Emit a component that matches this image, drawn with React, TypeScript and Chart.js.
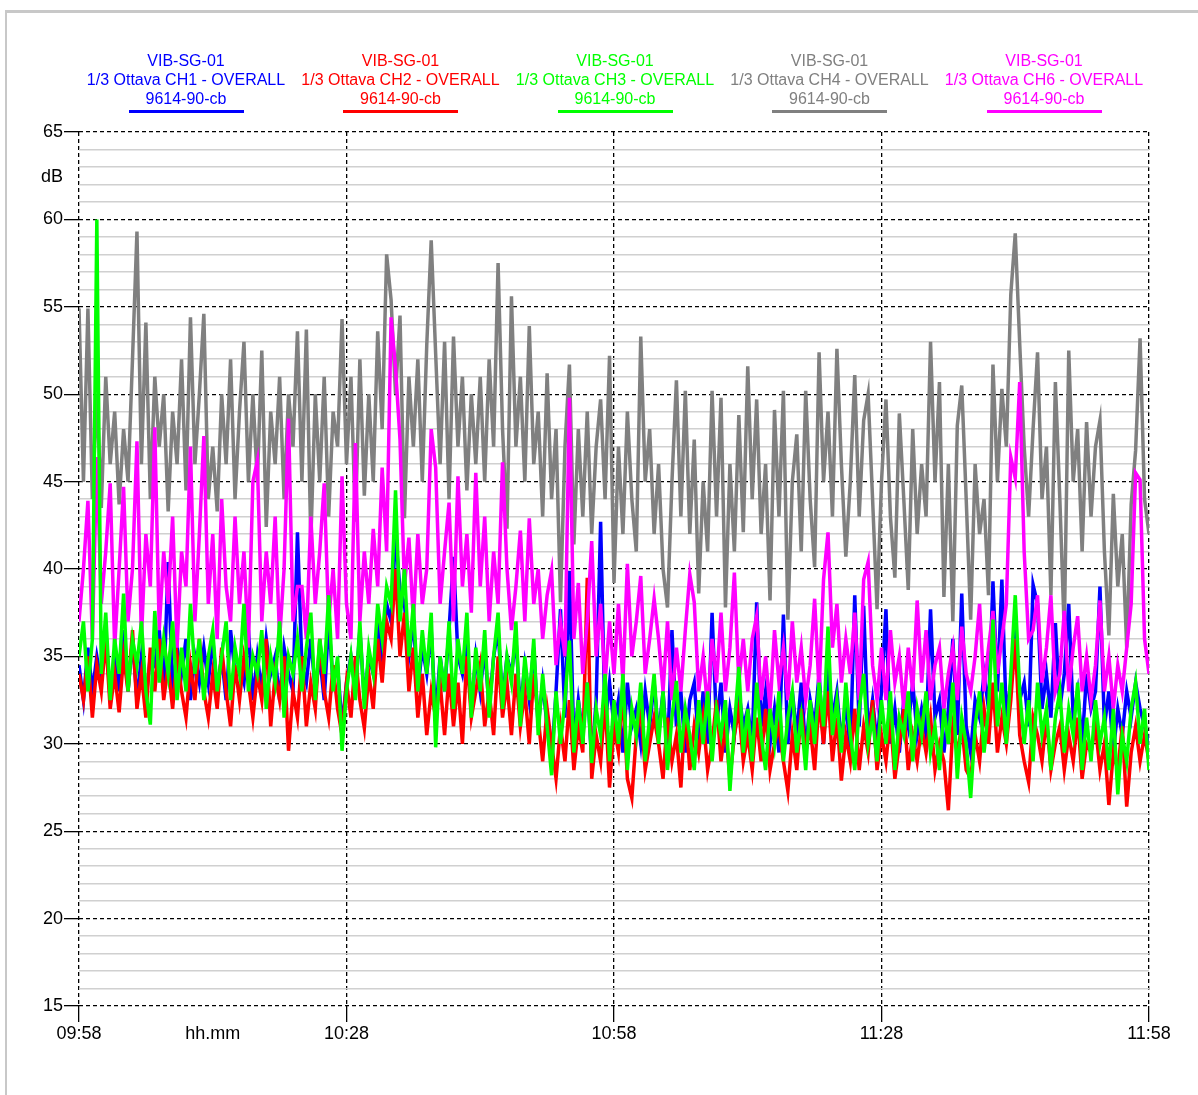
import React, { useEffect, useRef } from 'react';
import { Chart, registerables } from 'chart.js';

Chart.register(...registerables);

// ---- axes / labels ----
const STEP_MIN = 0.5; // sampling step of the arrays below, minutes from 09:58
const Y_MIN = 15;
const Y_MAX = 65;
const Y_LABEL_TICKS = [15, 20, 25, 30, 35, 40, 45, 50, 55, 60, 65];
const Y_UNIT = 'dB';
const Y_UNIT_AT = 62.4;
const X_TICK_MINUTES = [0, 30, 60, 90, 120];
const X_TICK_LABELS = ['09:58', '10:28', '10:58', '11:28', '11:58'];
const X_UNIT = 'hh.mm';
const X_UNIT_AT = 15;

// ---- legend ----
const STATION = 'VIB-SG-01';
const CHANNELS = [
  '1/3 Ottava CH1 - OVERALL',
  '1/3 Ottava CH2 - OVERALL',
  '1/3 Ottava CH3 - OVERALL',
  '1/3 Ottava CH4 - OVERALL',
  '1/3 Ottava CH6 - OVERALL',
];
const SENSOR = '9614-90-cb';
const COLORS = ['#0000ff', '#ff0000', '#00ff00', '#808080', '#ff00ff'];

// ---- series (dB, one value every 0.5 min) ----
const CH1 = [
  34.5, 32.5, 35.5, 33, 35, 33.5, 36.5, 32.5, 35, 33,
  36.5, 33, 36, 32.5, 35, 32.5, 35, 34.5, 36.5, 33,
  40.4, 33, 35.5, 34, 36, 32.5, 35, 33.5, 35.5, 33.5,
  36, 33, 35, 32.5, 36.5, 34, 34.5, 33.5, 36.5, 32.5,
  35, 33, 36, 34, 35, 32.5, 35.5, 34, 33, 42.1,
  34.5, 33.5, 36, 33, 35, 32.5, 37, 33.5, 34.5, 31,
  33.5, 35, 33, 36.5, 32.5, 35, 34, 37, 35, 38,
  37, 42, 38.8, 38, 35, 37, 33, 35.5, 34, 36.5,
  31.5, 35, 33, 36.5, 40.7, 35, 34, 36, 32, 35,
  33, 35.5, 32, 35, 36.5, 32.5, 35, 34, 36, 32,
  34.5, 32.5, 35.5, 31, 33.5, 31, 29, 33, 37.7, 31.5,
  39.9, 30, 32.5, 30.5, 33.5, 29, 32.5, 42.7, 31, 33.5,
  31, 32.5, 29.5, 33.5, 31, 32, 30, 33, 31, 33.5,
  30.5, 33, 29.5, 36.5, 31, 33, 29.5, 32.5, 33.5, 30,
  33, 30, 37.5, 31, 33.5, 29.5, 32, 30.5, 33, 31,
  32, 30, 38.1, 31, 33, 30, 32, 29.5, 37.4, 30,
  33, 30.5, 33.5, 29.5, 32.5, 31, 34, 30, 34.5, 31.5,
  33, 30, 32.5, 29.5, 38.5, 31, 37.9, 30.5, 32.5, 30,
  33, 37.7, 30, 32, 29.5, 32.5, 31, 33.5, 30.5, 32,
  30.5, 37.7, 31.5, 32.5, 29.5, 32, 36, 30.5, 38.6, 31,
  29.5, 32.5, 31.5, 34, 32, 39.3, 33, 39.4, 31.5, 33.5,
  37, 32.5, 33.5, 31, 39.1, 38, 32, 34, 31.5, 36.9,
  32, 34, 38, 31.5, 33, 30, 34, 32, 33, 39,
  31, 33, 29.5, 32, 30.5, 33, 31.5, 33.5, 32, 31,
  30,
];

const CH2 = [
  34, 32.5, 35, 31.5, 34.5, 33, 36, 32, 34, 31.8,
  35, 33, 36.5, 32, 34, 31.5, 35.5, 33, 36, 32.5,
  34.5, 32, 35, 33, 31.5, 34.5, 32.5, 36, 33, 31.5,
  34, 32, 35.5, 33, 31, 34.5, 32.5, 35, 33.5, 31.5,
  34, 32.5, 36, 31, 34, 32.5, 35, 29.6, 33, 31.5,
  35, 31, 33.5, 32, 36, 33, 31.5, 34.5, 32, 30.5,
  33.5, 31.5, 35, 32.5, 30.9, 34, 32, 36, 33.5, 37,
  36, 40, 35, 37.5, 33, 35.5, 31.5, 34, 30.5, 33,
  31.5, 33.5, 30.5, 34, 31, 33.5, 30, 35, 31.5, 33,
  34.5, 31, 33, 30.5, 35, 31.5, 33.5, 30.5, 34, 31,
  33, 30, 34, 31.5, 29, 32, 30, 28, 31, 29,
  32.5, 28.5, 31, 29.5, 39.5, 28, 30.5, 29, 32.5, 27.5,
  31, 29.5, 33, 28, 26.9, 30.5, 32, 28.5, 30, 31.5,
  30, 28, 31.5, 29, 30.5, 27.5, 32, 28.5, 31, 29.5,
  31.5, 28.5, 30, 32.5, 29, 31, 28, 30.5, 32, 29,
  30.5, 28.5, 31.5, 29, 32, 28.5, 30, 31, 29, 27.3,
  30.5, 28.5, 32, 29.5, 31, 28.5, 32.5, 30, 33, 29,
  31.5, 27.9, 30.5, 29, 32, 28.5, 31, 29.5, 32.5, 28.5,
  30.5, 29, 31.5, 28, 30, 32, 28.5, 30.5, 29, 31,
  29.5, 31.5, 28.5, 30, 29, 26.2, 31, 29.5, 31, 28.5,
  28, 30.5, 29, 32, 30, 33.5, 29.5, 31.5, 30, 32.5,
  36, 30.5, 29, 27.8, 31.5, 30.5, 29, 31.5, 28.5, 30,
  31, 28.5, 30.5, 29, 31.5, 28, 30, 29.5, 31, 28.5,
  30, 26.5, 29.5, 28.5, 31, 26.4, 29.5, 31, 29, 30.5,
  29,
];

const CH3 = [
  35, 37, 33, 36, 60, 34, 37.5, 32.5, 36, 34,
  38.6, 33, 36, 34.5, 37, 33, 31.1, 37.6, 33.5, 36,
  34, 37, 32.5, 35.5, 33, 38, 34, 36, 32.5, 35,
  36.5, 33, 35, 37, 32.5, 35.5, 34, 38, 33, 35,
  34, 36.5, 32, 35, 33.5, 37, 31.5, 35, 34, 36,
  33, 35.5, 37.5, 32.5, 36, 34, 38.5, 33, 35, 29.6,
  33, 35, 32.5, 37, 32, 35.5, 34, 38, 36, 39,
  38, 44.5, 37, 40, 35, 38, 33, 36.5, 34, 37.5,
  29.8, 35, 33, 37, 32, 36, 34, 37.5, 31.5, 35.5,
  33, 36.5, 31.5, 35, 37.5, 32, 35, 33.5, 37, 31,
  35, 32.5, 36, 30.5, 34, 31, 28.2, 33, 30, 32.5,
  35.9, 29.5, 32.5, 30, 33.5, 28.9, 32, 30.5, 34, 29,
  32.5, 30, 34, 28.5, 32, 30.5, 33.5, 29, 31.5, 34,
  30, 33, 28.5, 31.5, 33.6, 29.5, 32, 30.5, 28.5, 32.5,
  30, 33, 29, 32, 30.5, 32.5, 27.3, 31, 34.4, 29.5,
  32, 29, 33.5, 30.5, 28.5, 32, 30, 33, 29, 31.5,
  33, 29.5, 31.5, 28.5, 32.5, 30, 33.5, 31, 36.7, 30.5,
  32.5, 29.5, 33.5, 30.5, 28.5, 32, 34, 30, 31.5, 29,
  32.5, 30, 33, 28.5, 31.5, 30.5, 33, 29, 32, 30.5,
  33, 29.5, 31, 28.5, 32, 30, 33.5, 28, 31.5, 30,
  26.9, 31, 33, 29.5, 32, 37.1, 31, 33.5, 30, 34,
  38.5, 33, 30, 32.5, 29, 33.5, 30.5, 32, 28.5, 31.5,
  33, 29.5, 32, 30.5, 33.5, 28.5, 31.5, 29, 32.5, 30,
  31.5, 28.5, 32, 27.1, 30.5, 29, 32, 33.5, 30, 32,
  28.5,
];

const CH4 = [
  54.9, 45, 54.9, 44, 50, 43.5, 51, 46, 49, 43.7,
  48, 45, 52, 59.3, 46, 54.1, 44, 51, 47, 50,
  43.3, 49, 46, 52, 44.5, 54.4, 46, 50, 54.6, 44,
  47, 43.3, 50, 46, 52, 44, 49, 53, 45, 50,
  45, 52.5, 42.4, 49, 46, 51, 44, 50, 47, 53.6,
  45, 53.7, 41.6, 50, 45, 51, 43, 49, 47, 54.3,
  46, 51, 42.7, 52, 44.2, 50, 45, 53.6, 48, 58,
  55.4, 50, 54.5, 42.9, 51, 47, 52, 45, 52.8, 58.8,
  52.3, 46, 53, 44, 53.3, 47, 51, 44.5, 50, 46,
  51, 45, 52, 47, 57.5, 48, 42.3, 55.6, 47, 51,
  45, 53.9, 46, 49, 43, 51.2, 44, 48, 38.1, 47,
  51.7, 41.4, 48, 43, 49, 42, 47, 49.7, 44, 52.2,
  39.2, 47, 42, 49, 44, 41, 53.3, 45, 48, 42,
  46, 40, 37.8, 45, 50.8, 43, 50.2, 42, 47.4, 38.6,
  45, 41, 50.2, 43, 49.8, 37.8, 46, 41, 48.8, 42.1,
  51.6, 44, 49.7, 42, 46, 38.2, 49.1, 43, 50.2, 37.1,
  45, 47.7, 41, 50.2, 44, 40.1, 52.4, 45, 49, 43,
  52.6, 46, 40.7, 45, 51.1, 43, 48.5, 50, 44, 37.7,
  45, 49.7, 43, 39.5, 48.9, 44, 38.8, 48, 42, 46,
  43, 53, 45, 50.7, 38.4, 46, 37, 48.2, 50.5, 44,
  37.1, 46, 42, 44, 38.5, 51.7, 45, 50.3, 47, 55.7,
  59.2, 52.9, 47, 43, 48, 52.4, 44, 47, 38.5, 50.7,
  44, 36.4, 52.5, 45, 48, 41, 48.4, 43, 47, 48.5,
  41, 36.2, 44.3, 39, 42, 35.5, 43.7, 46.8, 53.2, 44,
  42,
];

const CH6 = [
  37, 40, 43.9, 36, 46.4, 38, 41, 44.9, 35.5, 40,
  44.7, 37, 40, 47.3, 36, 42, 39, 48.1, 36.5, 41,
  38, 43, 35.5, 41, 39, 47, 37, 42, 47.6, 38,
  42, 36, 44, 39, 37, 43, 38, 41, 35.5, 45,
  46.2, 37, 41, 38, 43, 36, 40, 48.6, 37, 39,
  39, 36, 43, 38, 41, 44.9, 37, 40, 36, 45.3,
  38, 36, 47.2, 37, 41, 38, 42.3, 39, 45.8, 41,
  54.4, 51.5, 47.4, 39, 41.8, 37, 42, 38, 40, 48,
  45.8, 38, 41, 43.8, 37, 45.3, 39, 42, 37.5, 45.5,
  39, 43, 37, 41, 38, 46.1, 40, 36.5, 39, 42.2,
  37, 42.9, 38, 40, 36, 38.5, 39.9, 34.5, 37, 35,
  49.8, 36, 39.2, 34, 37, 41.6, 35, 38, 33.5, 37,
  34, 38, 33.5, 40.3, 35, 37, 39.6, 34, 36, 38.3,
  36, 33, 37, 32.5, 35.5, 33, 36.5, 39.7, 38.1, 33,
  35, 32, 36, 33.5, 37.5, 33, 35.5, 39.8, 33.5, 36,
  33, 36, 37.3, 32.5, 35, 32, 36.5, 33.5, 35.5, 32.5,
  37, 33.5, 35.5, 32.5, 34.5, 38.3, 33, 39.4, 42.1, 35.5,
  38, 33.5, 36, 34, 37.5, 32.5, 39.4, 40.4, 34.5, 32.5,
  35.5, 32.5, 36.5, 33.5, 35, 32, 35.5, 33, 38.2, 33.5,
  36.5, 32.5, 34.5, 35.5, 32, 34, 35.5, 32.5, 36.7, 34,
  33, 35, 38, 33, 35.5, 37.6, 34, 36, 38, 46.4,
  45.2, 50.7, 41, 36, 36.5, 38.5, 33.5, 35.5, 38.5, 33,
  34, 37.6, 33, 35.5, 37.3, 33, 35, 32.5, 34.5, 38.2,
  33, 35, 32, 34.5, 33, 35.5, 38, 45.5, 45.1, 36,
  34,
];

const SERIES = [CH1, CH2, CH3, CH4, CH6];
const DRAW_ORDER = [3, 2, 0, 4, 1]; // lower = drawn on top

const LEGEND_X0 = 186;
const LEGEND_DX = 214.5;
const FONT = '"Liberation Sans", Arial, Helvetica, sans-serif';

export default function App() {
  const ref = useRef<HTMLCanvasElement>(null);

  useEffect(() => {
    if (!ref.current) return;
    Chart.defaults.font.family = FONT;
    const yTickValues: number[] = [];
    for (let v = Y_MIN; v <= Y_MAX; v += 1) {
      yTickValues.push(v);
      if (v < Y_UNIT_AT && v + 1 > Y_UNIT_AT) yTickValues.push(Y_UNIT_AT);
    }
    const isMajorY = (v: number) => Y_LABEL_TICKS.includes(v);

    const chart = new Chart(ref.current, {
      type: 'line',
      data: {
        datasets: SERIES.map((s, k) => ({
          label: CHANNELS[k],
          data: s.map((v, i) => ({ x: i * STEP_MIN, y: v })),
          borderColor: COLORS[k],
          backgroundColor: COLORS[k],
          borderWidth: 3.5,
          pointRadius: 0,
          tension: 0,
          order: DRAW_ORDER[k],
        })),
      },
      options: {
        responsive: false,
        animation: false,
        devicePixelRatio: 1,
        layout: { padding: { top: 132, right: 49, bottom: 29, left: 0 } },
        plugins: { legend: { display: false }, tooltip: { enabled: false } },
        scales: {
          x: {
            type: 'linear',
            min: X_TICK_MINUTES[0],
            max: X_TICK_MINUTES[X_TICK_MINUTES.length - 1],
            afterBuildTicks: (s: any) => {
              s.ticks = [...X_TICK_MINUTES, X_UNIT_AT]
                .sort((a, b) => a - b)
                .map((v) => ({ value: v }));
            },
            afterFit: (s: any) => {
              s.height = 60;
            },
            ticks: {
              autoSkip: false,
              maxRotation: 0,
              color: '#000',
              font: { size: 18 },
              padding: 1,
              callback: (v: any) => {
                if (v === X_UNIT_AT) return X_UNIT;
                const idx = X_TICK_MINUTES.indexOf(v);
                return idx >= 0 ? X_TICK_LABELS[idx] : '';
              },
            },
            grid: {
              color: (c: any) =>
                c.tick && c.tick.value === X_UNIT_AT ? 'rgba(0,0,0,0)' : '#000',
              tickColor: (c: any) =>
                c.tick && c.tick.value === X_UNIT_AT ? 'rgba(0,0,0,0)' : '#000',
              lineWidth: 1.3,
              tickWidth: 1.3,
              tickLength: 16,
            },
            border: { display: false, dash: [4, 3] },
          },
          y: {
            type: 'linear',
            min: Y_MIN,
            max: Y_MAX,
            afterBuildTicks: (s: any) => {
              s.ticks = yTickValues.map((v) => ({ value: v }));
            },
            afterFit: (s: any) => {
              s.width = 79;
            },
            ticks: {
              autoSkip: false,
              color: '#000',
              font: { size: 18 },
              padding: 1,
              callback: (v: any) => {
                if (v === Y_UNIT_AT) return Y_UNIT;
                return isMajorY(v) ? String(v) : '';
              },
            },
            grid: {
              color: (c: any) => {
                if (!c.tick) return '#d0d0d0';
                if (c.tick.value === Y_UNIT_AT) return 'rgba(0,0,0,0)';
                return isMajorY(c.tick.value) ? '#000' : '#d0d0d0';
              },
              lineWidth: (c: any) => (c.tick && isMajorY(c.tick.value) ? 1.3 : 1.5),
              tickColor: (c: any) =>
                c.tick && isMajorY(c.tick.value) ? '#000' : 'rgba(0,0,0,0)',
              tickWidth: 1.3,
              tickLength: 15,
            },
            border: {
              display: false,
              dash: (c: any) => (c.tick && isMajorY(c.tick.value) ? [4, 3] : []),
            },
          },
        },
      } as any,
    });
    return () => chart.destroy();
  }, []);

  return (
    <div
      style={{
        position: 'absolute',
        left: 0,
        top: 0,
        width: 1198,
        height: 1095,
        background: '#fff',
        overflow: 'hidden',
      }}
    >
      <div
        style={{
          position: 'absolute',
          left: 5,
          top: 10,
          width: 1300,
          height: 1200,
          borderTop: '3px solid #c8c8c8',
          borderLeft: '2px solid #c8c8c8',
        }}
      />
      <canvas
        ref={ref}
        width={1198}
        height={1095}
        style={{ position: 'absolute', left: 0, top: 0 }}
      />
      {CHANNELS.map((ch, k) => (
        <div
          key={k}
          style={{
            position: 'absolute',
            left: LEGEND_X0 + k * LEGEND_DX - 107,
            top: 51,
            width: 214,
            textAlign: 'center',
            color: COLORS[k],
            fontFamily: FONT,
            fontSize: 16,
            lineHeight: '19px',
            whiteSpace: 'nowrap',
          }}
        >
          <div>{STATION}</div>
          <div>{ch}</div>
          <div>{SENSOR}</div>
          <div
            style={{
              width: 115,
              height: 3,
              background: COLORS[k],
              margin: '2px auto 0',
            }}
          />
        </div>
      ))}
    </div>
  );
}
